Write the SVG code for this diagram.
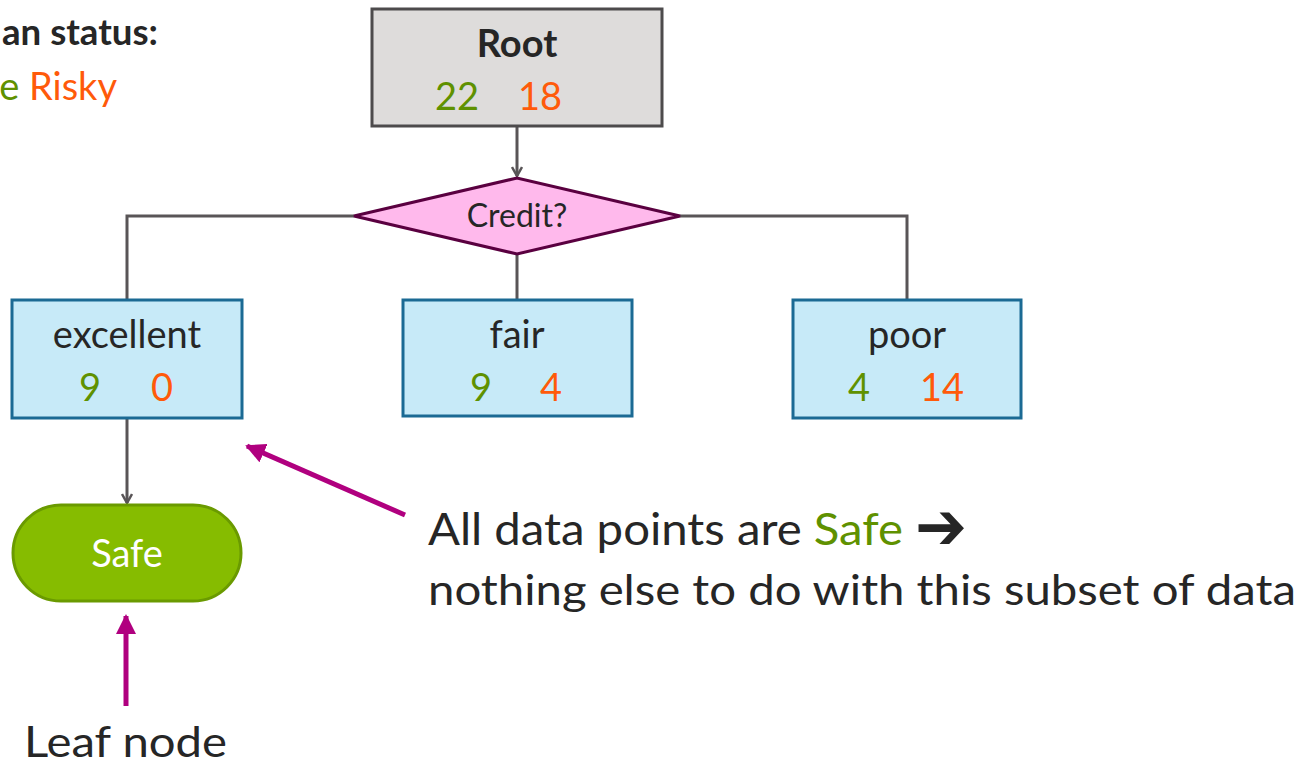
<svg xmlns="http://www.w3.org/2000/svg" width="1305" height="765" viewBox="0 0 1305 765">
<defs>
<style>
text{font-family:Lato,"Open Sans","Liberation Sans",sans-serif;fill:#262626}
.g{fill:#5f9100}.o{fill:#ff5a0a}
.box{fill:#c7eaf8;stroke:#1b6a94;stroke-width:3}
.lbl{font-size:38px;text-anchor:middle}
.num{font-size:38px;text-anchor:middle}
.con{fill:none;stroke:#595557;stroke-width:3}
.mag{fill:none;stroke:#b0007f;stroke-width:5}
</style>
<marker id="ah" viewBox="0 0 12 12" refX="10" refY="6" markerWidth="12" markerHeight="12" markerUnits="userSpaceOnUse" orient="auto">
<path d="M1,1 L10,6 L1,11" fill="none" stroke="#595557" stroke-width="2.5"/>
</marker>
<marker id="mh" viewBox="0 0 10 10" refX="9" refY="5" markerWidth="20" markerHeight="20" markerUnits="userSpaceOnUse" orient="auto">
<path d="M0,0 L10,5 L0,10 Z" fill="#b0007f"/>
</marker>
</defs>
<g id="legend">
<text x="2" y="45" style="font-size:37px;font-weight:bold" textLength="156" lengthAdjust="spacingAndGlyphs">an status:</text>
<text x="117" y="100" text-anchor="end" style="font-size:38px"><tspan class="g">e</tspan> <tspan class="o">Risky</tspan></text>
</g>
<g id="connectors">
<line class="con" x1="517" y1="126" x2="517" y2="176" marker-end="url(#ah)"/>
<polyline class="con" points="354,216 127,216 127,300"/>
<polyline class="con" points="680,216 907,216 907,300"/>
<line class="con" x1="517" y1="254" x2="517" y2="300"/>
<line class="con" x1="127" y1="418" x2="127" y2="503" marker-end="url(#ah)"/>
<line class="mag" x1="405" y1="515" x2="247" y2="446" marker-end="url(#mh)"/>
<line class="mag" x1="126" y1="706" x2="126" y2="616" marker-end="url(#mh)"/>
</g>
<g id="root">
<rect x="372" y="9" width="290" height="117" fill="#dedcdb" stroke="#4d4b4c" stroke-width="3"/>
<text x="517" y="57" text-anchor="middle" style="font-size:38px;font-weight:bold">Root</text>
<text x="457" y="110" class="num g">22</text>
<text x="540" y="110" class="num o">18</text>
</g>
<g id="credit">
<polygon points="354,216 517,178 680,216 517,254" fill="#ffb9ec" stroke="#5a0040" stroke-width="3"/>
<text x="517" y="227" text-anchor="middle" style="font-size:32px">Credit?</text>
</g>
<g id="excellent">
<rect class="box" x="12" y="300" width="230" height="118"/>
<text x="127" y="348" class="lbl">excellent</text>
<text x="90" y="401" class="num g">9</text>
<text x="162" y="401" class="num o">0</text>
</g>
<g id="fair">
<rect class="box" x="403" y="300" width="229" height="116"/>
<text x="517" y="348" class="lbl">fair</text>
<text x="481" y="401" class="num g">9</text>
<text x="551" y="401" class="num o">4</text>
</g>
<g id="poor">
<rect class="box" x="793" y="300" width="228" height="118"/>
<text x="907" y="348" class="lbl">poor</text>
<text x="859" y="401" class="num g">4</text>
<text x="942" y="401" class="num o">14</text>
</g>
<g id="safe">
<rect x="13" y="505" width="228" height="96" rx="48" fill="#86bc00" stroke="#6a9a00" stroke-width="3"/>
<text x="127" y="567" text-anchor="middle" style="font-size:38px;fill:#ffffff">Safe</text>
</g>
<g id="note">
<text x="428" y="545" style="font-size:44px" textLength="475" lengthAdjust="spacingAndGlyphs">All data points are <tspan class="g">Safe</tspan></text>
<text x="915" y="549" style="font-family:'DejaVu Sans',sans-serif;font-size:66px;font-weight:bold" textLength="52" lengthAdjust="spacingAndGlyphs">➔</text>
<text x="428" y="605" style="font-size:42px" textLength="868" lengthAdjust="spacingAndGlyphs">nothing else to do with this subset of data</text>
</g>
<g id="leaf-label">
<text x="24" y="757" style="font-size:42px" textLength="203" lengthAdjust="spacingAndGlyphs">Leaf node</text>
</g>
</svg>
